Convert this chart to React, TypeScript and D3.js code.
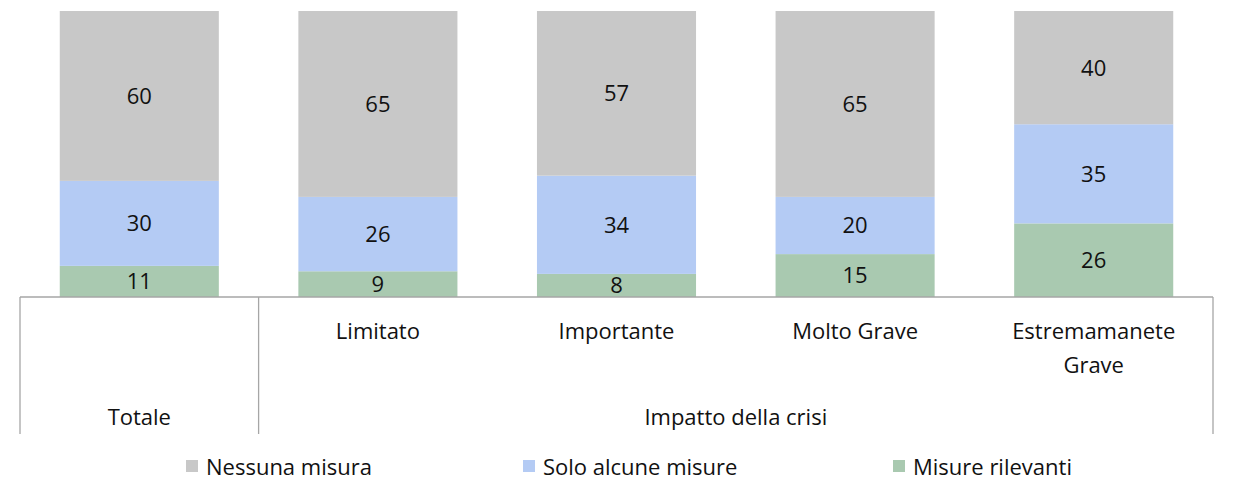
import React from "react";
import * as d3 from "d3";

const categories = ["Totale", "Limitato", "Importante", "Molto Grave", "Estremamanete Grave"];
const subLabels = [[""], ["Limitato"], ["Importante"], ["Molto Grave"], ["Estremamanete", "Grave"]];
const seriesNames = ["Misure rilevanti", "Solo alcune misure", "Nessuna misura"];
const misureRilevanti = [11, 9, 8, 15, 26];
const soloAlcune = [30, 26, 34, 20, 35];
const nessuna = [60, 65, 57, 65, 40];
const groups = [
  { label: "Totale", from: 0, to: 0 },
  { label: "Impatto della crisi", from: 1, to: 4 },
];
const legendOrder = ["Nessuna misura", "Solo alcune misure", "Misure rilevanti"];

const colors: Record<string, string> = {
  "Nessuna misura": "#c8c8c8",
  "Solo alcune misure": "#b4cbf4",
  "Misure rilevanti": "#a9c9b0",
};

const W = 1237;
const H = 492;
const FONT = "'Open Sans', sans-serif";
const FS = 22;

export default function App() {
  const rows = categories.map((c, i) => ({
    cat: c,
    "Misure rilevanti": misureRilevanti[i],
    "Solo alcune misure": soloAlcune[i],
    "Nessuna misura": nessuna[i],
  }));
  const stack = d3.stack<any>().keys(seriesNames).offset(d3.stackOffsetExpand);
  const layers = stack(rows);

  const x = d3.scaleBand<string>().domain(categories).range([20, 1213]).paddingInner(1 / 3).paddingOuter(1 / 6);
  const y = d3.scaleLinear().domain([0, 1]).range([297, 11]);
  const axisY = 297;
  const axisBottom = 434;
  const step = x.step();

  const legendX = [186, 523, 893];

  return (
    <svg width={W} height={H} style={{ position: "fixed", left: 0, top: 0 }} fontFamily={FONT}>
      <rect width={W} height={H} fill="#fff" />
      {layers.map((layer) => (
        <g key={layer.key}>
          {layer.map((d, i) => {
            const v = rows[i][layer.key as keyof (typeof rows)[0]] as number;
            const y0 = y(d[0]);
            const y1 = y(d[1]);
            return (
              <g key={i}>
                <rect x={x(categories[i])} y={y1} width={x.bandwidth()} height={y0 - y1} fill={colors[layer.key]} />
                <text
                  x={(x(categories[i]) as number) + x.bandwidth() / 2}
                  y={(y0 + y1) / 2}
                  dy="0.36em"
                  textAnchor="middle"
                  fontSize={FS}
                  fill="#111"
                >
                  {v}
                </text>
              </g>
            );
          })}
        </g>
      ))}
      {/* axis */}
      <line x1={20} x2={1213} y1={axisY} y2={axisY} stroke="#a6a6a6" strokeWidth={1.3} />
      {[0, 1, 5].map((k) => {
        const xx = 20 + step * k;
        return <line key={k} x1={xx} x2={xx} y1={axisY} y2={axisBottom} stroke="#a6a6a6" strokeWidth={1.3} />;
      })}
      {subLabels.map((lines, i) =>
        lines.map((t, j) => (
          <text
            key={i + "-" + j}
            x={(x(categories[i]) as number) + x.bandwidth() / 2}
            y={339 + j * 34}
            textAnchor="middle"
            fontSize={FS}
            fill="#111"
          >
            {t}
          </text>
        ))
      )}
      {groups.map((g) => {
        const x0 = 20 + step * g.from;
        const x1 = 20 + step * (g.to + 1);
        return (
          <text key={g.label} x={(x0 + x1) / 2} y={425} textAnchor="middle" fontSize={FS} fill="#111">
            {g.label}
          </text>
        );
      })}
      {legendOrder.map((name, i) => (
        <g key={name}>
          <rect x={legendX[i]} y={460} width={12} height={12} fill={colors[name]} />
          <text x={legendX[i] + 20} y={475} fontSize={FS} fill="#111">
            {name}
          </text>
        </g>
      ))}
    </svg>
  );
}
